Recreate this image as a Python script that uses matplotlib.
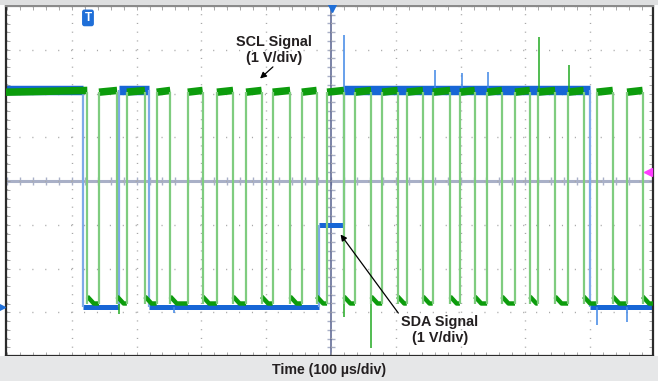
import matplotlib.pyplot as plt
from matplotlib.ticker import MultipleLocator
from matplotlib.patches import Rectangle
import numpy as np

plt.rcParams['font.family'] = ['Liberation Sans', 'DejaVu Sans']

# time axis in microseconds, voltage axis in divisions (1 V/div)
t_start, t_end = -501.5, 497.0

# SCL (green): edge times
scl_fall_us = [-376, -330, -287, -248, -198, -151, -107, -63, -22, 20, 62,
               103, 142, 184, 222, 264, 307, 346, 390, 435, 481]
scl_rise_us = [-358, -315, -269, -221, -176, -131, -90, -45, -6, 37, 79,
               117, 157, 199, 241, 284, 319, 366, 410, 457]
scl_high_v = (2.03, 2.07)      # level at start / end of a high pulse
scl_low_v = (-2.64, -2.8)      # overshoot right after falling, settled level
scl_spike_t = [321, 367, -327, 20, 62]
scl_spike_v = [3.3, 2.65, -3.04, -3.11, -3.82]

# SDA (blue): edges and level held after each edge
sda_edge_us = [-383, -327, -281, -18.5, 20, 400]
sda_level_v = [2.08, -2.88, 2.08, -2.88, -1.0, 2.08, -2.88]
sda_spike_t = [20, 160, 202, 242, -242, 410, 457]
sda_spike_v = [3.34, 2.54, 2.47, 2.5, -3.02, -3.3, -3.23]

green, green_edge = '#0c9c0c', '#7fcc7f'
blue, blue_edge = '#1766d6', '#7eaae8'
txt = '#231f20'

fig = plt.figure(figsize=(6.58, 3.81), dpi=100, facecolor='white')
fig.patches.append(Rectangle((0, 0), 1, 25 / 381, transform=fig.transFigure,
                             fc='#e6e7e8', ec='none', zorder=0))
fig.patches.append(Rectangle((0, 376 / 381), 1, 5 / 381, transform=fig.transFigure,
                             fc='#dedfe0', ec='none', zorder=0))

ax = fig.add_axes([6 / 658, 25 / 381, 647 / 658, 350 / 381])
ax.set_xlim(t_start, t_end)
ax.set_ylim(-4, 4)
ax.xaxis.set_major_locator(MultipleLocator(100))
ax.xaxis.set_minor_locator(MultipleLocator(20))
ax.yaxis.set_major_locator(MultipleLocator(1))
ax.yaxis.set_minor_locator(MultipleLocator(0.2))
ax.tick_params(which='both', direction='in', top=True, right=True,
               labelbottom=False, labelleft=False, length=3, width=0.6,
               color='#9a9a9a')
ax.xaxis.grid(True, which='major', ls=(0, (0.8, 5.5)), color='#a8a8a8', lw=1)
ax.yaxis.grid(True, which='major', ls=(0, (0.8, 8.5)), color='#a8a8a8', lw=1)
for s in ax.spines.values():
    s.set_color('#2b2b2b')
    s.set_linewidth(1.6)
ax.spines['top'].set_color('#8a8a8a')

# center cross with minor ticks
ax.axhline(0, color='#a9b0c7', lw=2.2, zorder=1)
ax.axvline(0, color='#56608e', lw=1.1, zorder=1.2)
ax.plot(np.arange(-500, 500, 20), np.zeros(50), ls='none', marker='|', ms=6,
        mew=1, color='#a9b0c7', zorder=1)
ax.plot(np.zeros(40), np.arange(-4, 4, 0.2), ls='none', marker='_', ms=6,
        mew=1, color='#a9b0c7', zorder=1)

# SDA trace
bounds = [t_start] + sda_edge_us + [t_end]
for i, lv in enumerate(sda_level_v):
    ax.plot([bounds[i], bounds[i + 1]], [lv, lv], color=blue, lw=6.8 if lv > 0 else 3.6,
            solid_capstyle='butt', zorder=2)
for i, e in enumerate(sda_edge_us):
    ax.vlines(e, min(sda_level_v[i], sda_level_v[i + 1]),
              max(sda_level_v[i], sda_level_v[i + 1]), color=blue_edge, lw=1.6, zorder=2)
for t, v in zip(sda_spike_t, sda_spike_v):
    base = sda_level_v[np.searchsorted(sda_edge_us, t)]
    ax.vlines(t, min(base, v), max(base, v), color='#3f86e6', lw=1.1, zorder=2)

# SCL trace
highs = list(zip([t_start] + scl_rise_us, scl_fall_us))
lows = list(zip(scl_fall_us, scl_rise_us + [t_end]))
for a, b in highs:
    ax.plot([a, b], scl_high_v, color=green, lw=5.4, solid_capstyle='butt', zorder=3)
for a, b in lows:
    ax.plot([a, a + 10, b], [scl_low_v[0], scl_low_v[1], scl_low_v[1]], color=green,
            lw=3.2, solid_capstyle='butt', zorder=3)
ax.vlines(scl_fall_us + scl_rise_us, scl_low_v[1], scl_high_v[0],
          color=green_edge, lw=1.6, zorder=3)
for t, v in zip(scl_spike_t, scl_spike_v):
    base = scl_high_v[1] if v > 0 else scl_low_v[1]
    ax.vlines(t, min(base, v), max(base, v), color='#22aa22', lw=1.1, zorder=3)

# annotations
ax.text(-88, 3.0, 'SCL Signal\n(1 V/div)', ha='center', va='center', fontsize=10.4,
        fontweight='bold', color=txt, linespacing=1.15, zorder=5)
ax.annotate('', xy=(-112.6, 2.3), xytext=(-86.4, 2.65),
            arrowprops=dict(arrowstyle='-|>', color='black', lw=0.9, mutation_scale=9), zorder=5)
ax.text(168, -3.41, 'SDA Signal\n(1 V/div)', ha='center', va='center', fontsize=10.4,
        fontweight='bold', color=txt, linespacing=1.15, zorder=5)
ax.annotate('', xy=(12.3, -1.17), xytext=(106.5, -3.07),
            arrowprops=dict(arrowstyle='-|>', color='black', lw=0.9, mutation_scale=9), zorder=5)

# scope markers
ax.text(0.1267, 0.966, 'T', transform=ax.transAxes, ha='center', va='center',
        fontsize=8.5, fontweight='bold', color='white',
        bbox=dict(boxstyle='round,pad=0.2', fc='#1f6fd8', ec='none'), zorder=6)
ax.plot([0.504], [0.993], transform=ax.transAxes, marker='v', ms=6, color='#1f6fd8',
        clip_on=False, zorder=6)
ax.plot([-0.006], [0.14], transform=ax.transAxes, marker='>', ms=5, color='#1f6fd8',
        clip_on=False, zorder=6)
ax.plot([0.992], [0.526], transform=ax.transAxes, marker='<', ms=6, color='#ff3cff',
        clip_on=False, zorder=6)

fig.text(329 / 658, 1 - 370 / 381, 'Time (100 µs/div)', ha='center', va='center',
         fontsize=10.2, fontweight='bold', color=txt)

fig.savefig('out.png', dpi=100, facecolor=fig.get_facecolor())
